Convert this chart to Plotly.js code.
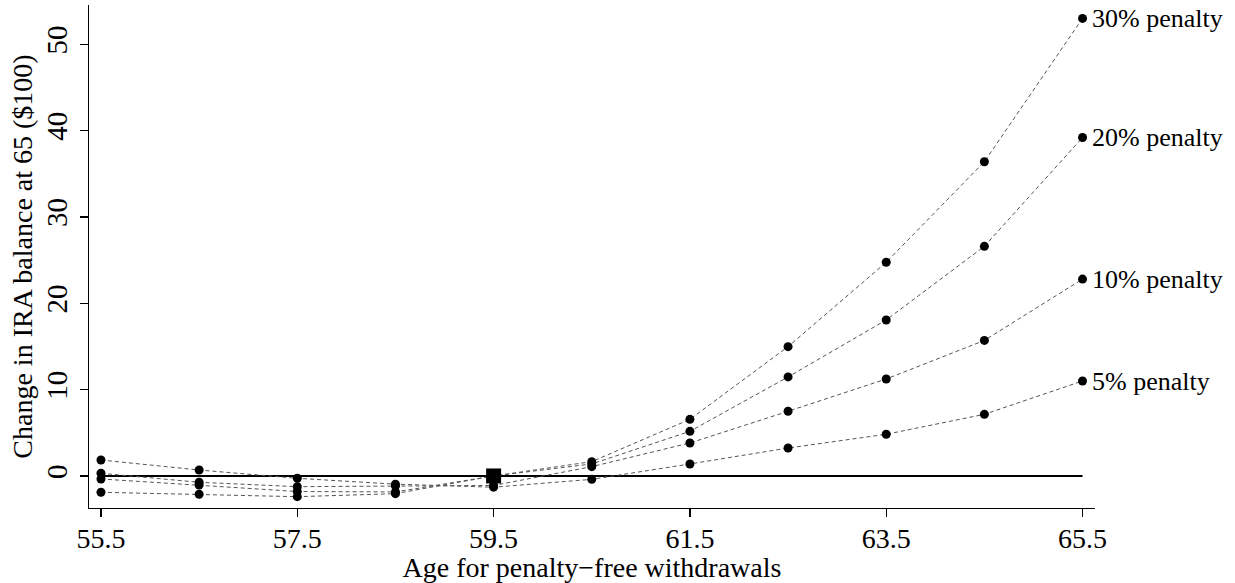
<!DOCTYPE html>
<html>
<head>
<meta charset="utf-8">
<script src="https://cdn.plot.ly/plotly-3.0.1.min.js"></script>
<style>html,body{margin:0;padding:0;background:#fff;} #chart{width:1235px;height:583px;}</style>
</head>
<body>
<div id="chart"></div>
<script>
const ages = [55.5, 56.5, 57.5, 58.5, 59.5, 60.5, 61.5, 62.5, 63.5, 64.5, 65.5];
const pen5  = [1.85, 0.69, -0.27, -0.95, -1.3, -0.39, 1.39, 3.24, 4.83, 7.14, 11.0];
const pen10 = [0.31, -0.73, -1.24, -1.15, -1.1, 1.08, 3.82, 7.49, 11.23, 15.7, 22.8];
const pen20 = [-0.35, -1.04, -1.8, -1.85, 0, 1.39, 5.17, 11.47, 18.07, 26.6, 39.2];
const pen30 = [-1.89, -2.12, -2.4, -2.05, 0, 1.66, 6.56, 14.98, 24.75, 36.4, 53.0];
const seriesNames = ["5% penalty", "10% penalty", "20% penalty", "30% penalty"];
const seriesVals = [pen5, pen10, pen20, pen30];
const baselineAge = [59.5];
const baselineVal = [0];
const xTicks = [55.5, 57.5, 59.5, 61.5, 63.5, 65.5];
const yTicks = [0, 10, 20, 30, 40, 50];

const FONT = "Liberation Serif, Times New Roman, serif";

const traces = [];
traces.push({
  x: [ages[0], ages[ages.length - 1]], y: [0, 0], mode: "lines",
  line: {color: "#000", width: 2}, hoverinfo: "skip", showlegend: false, cliponaxis: false
});
seriesVals.forEach((vals, i) => {
  traces.push({
    x: ages, y: vals, mode: "lines+markers", name: seriesNames[i],
    line: {color: "#555", width: 1, dash: "4px,3px"},
    marker: {color: "#000", size: 9},
    showlegend: false, cliponaxis: false
  });
});
traces.push({
  x: baselineAge, y: baselineVal, mode: "markers",
  marker: {symbol: "square", color: "#000", size: 15},
  showlegend: false, cliponaxis: false
});

const annotations = seriesVals.map((vals, i) => ({
  x: ages[ages.length - 1], y: vals[vals.length - 1],
  text: seriesNames[i], showarrow: false, xanchor: "left", yanchor: "middle",
  xshift: 7, font: {family: FONT, size: 26, color: "#000"}
}));

const layout = {
  width: 1235, height: 583,
  margin: {l: 89, r: 140, t: 5, b: 75},
  paper_bgcolor: "#fff", plot_bgcolor: "#fff",
  font: {family: FONT, color: "#000"},
  xaxis: {
    range: [55.378, 65.627], tickvals: xTicks, ticktext: xTicks.map(v => v.toFixed(1)),
    showgrid: false, zeroline: false, showline: true, linecolor: "#000", linewidth: 1.3,
    ticks: "outside", ticklen: 8, tickwidth: 1.3, tickcolor: "#000",
    tickfont: {family: FONT, size: 28}, ticklabelstandoff: -3, automargin: false,
    title: {text: "Age for penalty\u2212free withdrawals", font: {family: FONT, size: 28}, standoff: 4}
  },
  yaxis: {
    range: [-3.71, 54.55], tickvals: yTicks, tickangle: -90, ticklabelstandoff: 1,
    showgrid: false, zeroline: false, showline: true, linecolor: "#000", linewidth: 1.3,
    ticks: "outside", ticklen: 8, tickwidth: 1.3, tickcolor: "#000",
    tickfont: {family: FONT, size: 29}, automargin: false,
    title: {text: "Change in IRA balance at 65 ($100)", font: {family: FONT, size: 28}, standoff: 0}
  },
  annotations: annotations,
  showlegend: false
};

Plotly.newPlot("chart", traces, layout, {displayModeBar: false, staticPlot: true});
</script>
</body>
</html>
